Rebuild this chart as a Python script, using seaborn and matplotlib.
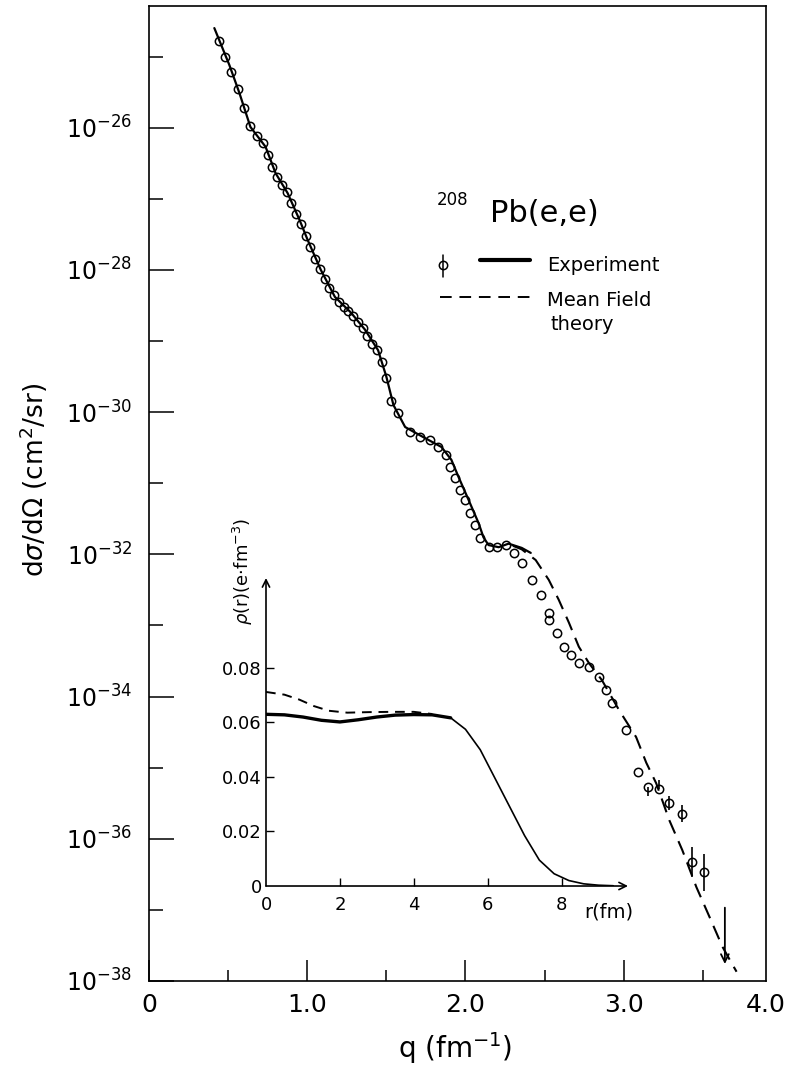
import numpy as np
import pandas as pd
import matplotlib
matplotlib.use("Agg")
import matplotlib.pyplot as plt
import seaborn as sns
from matplotlib.lines import Line2D
from matplotlib.ticker import FixedLocator, FixedFormatter, NullFormatter

# ---------------- main panel data (q in fm^-1, log10 of cross section) -------------
exp_q = [0.413, 0.508, 0.571, 0.641, 0.737, 0.800, 0.876, 0.952, 1.003, 1.086,
         1.175, 1.276, 1.365, 1.448, 1.500, 1.545, 1.619, 1.683, 1.765, 1.848,
         1.911, 1.956, 2.019, 2.083, 2.114, 2.146, 2.210, 2.273, 2.356, 2.413]
exp_log = [-24.60, -25.12, -25.51, -25.99, -26.27, -26.64, -26.92, -27.30, -27.58, -28.00,
           -28.38, -28.60, -28.84, -29.13, -29.50, -29.90, -30.21, -30.29, -30.39, -30.49,
           -30.67, -30.91, -31.23, -31.56, -31.76, -31.87, -31.90, -31.85, -31.91, -31.98]

theory_q = [2.300, 2.356, 2.444, 2.527, 2.590, 2.654, 2.717, 2.781, 2.863, 2.971,
            3.079, 3.143, 3.206, 3.289, 3.371, 3.460, 3.543, 3.625, 3.683, 3.714]
theory_log = [-31.88, -31.93, -32.08, -32.36, -32.64, -32.96, -33.30, -33.53, -33.77, -34.19,
              -34.57, -34.93, -35.22, -35.74, -36.16, -36.68, -37.10, -37.52, -37.75, -37.87]

pts_q = [0.44, 0.48, 0.52, 0.56, 0.60, 0.64, 0.68, 0.72, 0.75, 0.78,
         0.81, 0.84, 0.87, 0.90, 0.93, 0.96, 0.99, 1.02, 1.05, 1.08,
         1.11, 1.14, 1.17, 1.20, 1.23, 1.26, 1.29, 1.32, 1.35, 1.38,
         1.41, 1.44, 1.47, 1.50, 1.53, 1.575, 1.651, 1.714, 1.778, 1.829,
         1.879, 1.905, 1.937, 1.968, 2.000, 2.032, 2.063, 2.095, 2.146, 2.197,
         2.254, 2.305, 2.356, 2.419, 2.476, 2.527, 2.527, 2.578, 2.622, 2.667,
         2.717, 2.781, 2.844, 2.889, 2.927, 3.016, 3.092, 3.156, 3.225, 3.289,
         3.371, 3.435, 3.511]
pts_log = [-24.78, -25.00, -25.22, -25.45, -25.72, -25.97, -26.12, -26.22, -26.38, -26.55,
           -26.70, -26.81, -26.91, -27.06, -27.21, -27.36, -27.52, -27.68, -27.85, -27.99,
           -28.13, -28.25, -28.36, -28.45, -28.52, -28.58, -28.65, -28.73, -28.82, -28.93,
           -29.04, -29.13, -29.30, -29.52, -29.85, -30.01, -30.28, -30.35, -30.39, -30.49,
           -30.60, -30.77, -30.93, -31.09, -31.23, -31.42, -31.59, -31.77, -31.90, -31.90,
           -31.87, -31.98, -32.12, -32.36, -32.57, -32.82, -32.92, -33.11, -33.30, -33.41,
           -33.53, -33.58, -33.72, -33.91, -34.09, -34.47, -35.06, -35.27, -35.30, -35.50,
           -35.65, -36.33, -36.47]
# error bars (in decades) for the last points; zero elsewhere
err_q = [3.156, 3.225, 3.289, 3.371, 3.435, 3.511]
err_log = [-35.27, -35.30, -35.50, -35.65, -36.33, -36.47]
err_lo = [0.13, 0.00, 0.10, 0.12, 0.21, 0.27]
err_hi = [0.00, 0.13, 0.10, 0.12, 0.21, 0.25]

# upper limit arrow
ul_q = [3.64]
ul_top = [-36.93]
ul_bot = [-37.80]

x_ticks = [0, 1.0, 2.0, 3.0, 3.9]
x_ticklabels = ["0", "1.0", "2.0", "3.0", "4.0"]
y_major_exp = [-38, -36, -34, -32, -30, -28, -26]
y_minor_exp = [-37, -35, -33, -31, -29, -27, -25]

# ---------------- inset data (r in fm, density) ----------------
r_exp = [0.0, 0.5, 1.0, 1.5, 2.0, 2.5, 3.0, 3.5, 4.0, 4.5, 5.0,
         5.4, 5.8, 6.2, 6.6, 7.0, 7.4, 7.8, 8.2, 8.6, 9.0, 9.4]
rho_exp = [0.0630, 0.0628, 0.0620, 0.0608, 0.0602, 0.0610, 0.0620, 0.0627, 0.0629, 0.0628, 0.0617,
           0.0575, 0.0500, 0.0395, 0.0290, 0.0185, 0.0095, 0.0045, 0.0020, 0.0008, 0.0003, 0.0001]
r_th = [0.0, 0.5, 0.9, 1.3, 1.7, 2.2, 2.8, 3.4, 4.0, 4.5]
rho_th = [0.0712, 0.0702, 0.0684, 0.0660, 0.0643, 0.0636, 0.0638, 0.0639, 0.0639, 0.0631]
inset_xticks = [0, 2, 4, 6, 8]
inset_yticks = [0, 0.02, 0.04, 0.06, 0.08]
inset_yticklabels = ["0", "0.02", "0.04", "0.06", "0.08"]

# ---------------- style ----------------
sns.set_theme(style="white")
plt.rcParams["font.family"] = ["DejaVu Sans"]
plt.rcParams["mathtext.fontset"] = "dejavusans"
plt.rcParams["text.color"] = "black"
plt.rcParams["axes.labelcolor"] = "black"
plt.rcParams["xtick.color"] = "black"
plt.rcParams["ytick.color"] = "black"

fig = plt.figure(figsize=(7.93, 10.78), dpi=100)
ax = fig.add_axes([149 / 793, 0.0900, 617 / 793, 0.9044])

exp_df = pd.DataFrame({"q": exp_q, "s": 10.0 ** np.array(exp_log)})
th_df = pd.DataFrame({"q": theory_q, "s": 10.0 ** np.array(theory_log)})

sns.lineplot(data=exp_df, x="q", y="s", ax=ax, color="black", lw=1.6,
             sort=False, estimator=None)
sns.lineplot(data=th_df, x="q", y="s", ax=ax, color="black", lw=1.5,
             sort=False, estimator=None, dashes=False)
ax.lines[-1].set_dashes((7, 4))

pts_s = 10.0 ** np.array(pts_log)
ax.plot(pts_q, pts_s, "o", ms=6.0, mfc="none", mec="black", mew=1.1, zorder=3)

e_s = 10.0 ** np.array(err_log)
yerr = [e_s - 10.0 ** (np.array(err_log) - np.array(err_lo)),
        10.0 ** (np.array(err_log) + np.array(err_hi)) - e_s]
ax.errorbar(err_q, e_s, yerr=yerr, fmt="none", ecolor="black", elinewidth=1.2, capsize=0)

for q, t, b in zip(ul_q, ul_top, ul_bot):
    ax.annotate("", xy=(q, 10.0 ** b), xytext=(q, 10.0 ** t),
                arrowprops=dict(arrowstyle="->", color="black", lw=1.3, mutation_scale=14))

ax.set_yscale("log")
ax.set_xlim(0, 3.9)
ax.set_ylim(1e-38, 10 ** -24.29)

ax.xaxis.set_major_locator(FixedLocator(x_ticks))
ax.xaxis.set_major_formatter(FixedFormatter(x_ticklabels))
ax.xaxis.set_minor_locator(FixedLocator([0.5, 1.5, 2.5, 3.5]))
ax.yaxis.set_major_locator(FixedLocator([10.0 ** e for e in y_major_exp]))
ax.yaxis.set_major_formatter(FixedFormatter([r"$10^{%d}$" % e for e in y_major_exp]))
ax.yaxis.set_minor_locator(FixedLocator([10.0 ** e for e in y_minor_exp]))
ax.yaxis.set_minor_formatter(NullFormatter())

ax.tick_params(axis="both", which="both", direction="in", color="black",
               top=False, right=False, bottom=True, left=True, labelcolor="black")
ax.tick_params(axis="y", which="major", length=18, width=1.1, labelsize=17, pad=12)
ax.tick_params(axis="y", which="minor", length=10, width=1.1)
ax.tick_params(axis="x", which="major", length=15, width=1.1, labelsize=18, pad=9)
ax.tick_params(axis="x", which="minor", length=8, width=1.1)
ax.xaxis.get_major_ticks()[-1].tick1line.set_visible(False)

for sp in ax.spines.values():
    sp.set_color("black")
    sp.set_linewidth(1.2)

ax.set_xlabel(r"q (fm$^{-1}$)", fontsize=20, color="black")
ax.xaxis.set_label_coords(0.496, -0.050)
ax.set_ylabel(r"d$\sigma$/d$\Omega$ (cm$^2$/sr)", fontsize=19, color="black")
ax.yaxis.set_label_coords(-0.16, 0.514)

# ---- key (drawn in axes fraction) ----
tr = ax.transAxes
ax.text(0.4668, 0.796, "208", transform=tr, fontsize=12, va="baseline", ha="left", color="black")
ax.text(0.5527, 0.7785, "Pb(e,e)", transform=tr, fontsize=22, va="baseline", ha="left", color="black")
ax.add_line(Line2D([0.4765], [0.7344], transform=tr, marker="o", ms=6, mfc="none",
                   mec="black", mew=1.1, ls="none"))
ax.add_line(Line2D([0.4765, 0.4765], [0.7221, 0.7446], transform=tr, color="black", lw=1.1))
ax.add_line(Line2D([0.5365, 0.6175], [0.7395, 0.7395], transform=tr, color="black", lw=3))
ax.text(0.645, 0.7282, "Experiment", transform=tr, fontsize=14, va="baseline", ha="left", color="black")
ax.add_line(Line2D([0.4716, 0.6175], [0.7015, 0.7015], transform=tr, color="black",
                   lw=1.4, dashes=(6, 4)))
ax.text(0.645, 0.6923, "Mean Field", transform=tr, fontsize=14, va="baseline", ha="left", color="black")
ax.text(0.650, 0.6677, "theory", transform=tr, fontsize=14, va="baseline", ha="left", color="black")

# ---------------- inset ----------------
axi = fig.add_axes([266 / 793, 0.1781, 362 / 793, 0.2857])
axi.set_facecolor("none")
n_thick = 11
sns.lineplot(x=r_exp[:n_thick], y=rho_exp[:n_thick], ax=axi, color="black", lw=2.4,
             sort=False, estimator=None)
sns.lineplot(x=r_exp[n_thick - 1:], y=rho_exp[n_thick - 1:], ax=axi, color="black", lw=1.2,
             sort=False, estimator=None)
sns.lineplot(x=r_th, y=rho_th, ax=axi, color="black", lw=1.4, sort=False, estimator=None)
axi.lines[-1].set_dashes((5, 3.5))

axi.set_xlim(0, 9.8)
axi.set_ylim(0, 0.113)
for sp in axi.spines.values():
    sp.set_visible(False)
axi.annotate("", xy=(0, 1), xytext=(0, 0), xycoords="axes fraction",
             arrowprops=dict(arrowstyle="->", color="black", lw=1.2, mutation_scale=13,
                             shrinkA=0, shrinkB=0))
axi.annotate("", xy=(1, 0), xytext=(0, 0), xycoords="axes fraction",
             arrowprops=dict(arrowstyle="->", color="black", lw=1.2, mutation_scale=13,
                             shrinkA=0, shrinkB=0))
axi.xaxis.set_major_locator(FixedLocator(inset_xticks))
axi.yaxis.set_major_locator(FixedLocator(inset_yticks))
axi.yaxis.set_major_formatter(FixedFormatter(inset_yticklabels))
axi.tick_params(axis="both", which="major", direction="in", length=6, width=1.0,
                color="black", labelsize=13, labelcolor="black",
                bottom=True, left=True, top=False, right=False)
axi.tick_params(axis="x", pad=7)
axi.tick_params(axis="y", pad=3)
axi.xaxis.get_major_ticks()[0].tick1line.set_visible(False)
axi.yaxis.get_major_ticks()[0].tick1line.set_visible(False)
axi.text(0.947, -0.084, "r(fm)", transform=axi.transAxes, fontsize=14,
         ha="center", va="center", color="black")
axi.text(-0.064, 1.02, r"$\rho$(r)(e$\cdot$fm$^{-3}$)", transform=axi.transAxes,
         fontsize=13, rotation=90, ha="center", va="center", color="black")
axi.set_xlabel("")
axi.set_ylabel("")

fig.savefig("out.png", dpi=100)
